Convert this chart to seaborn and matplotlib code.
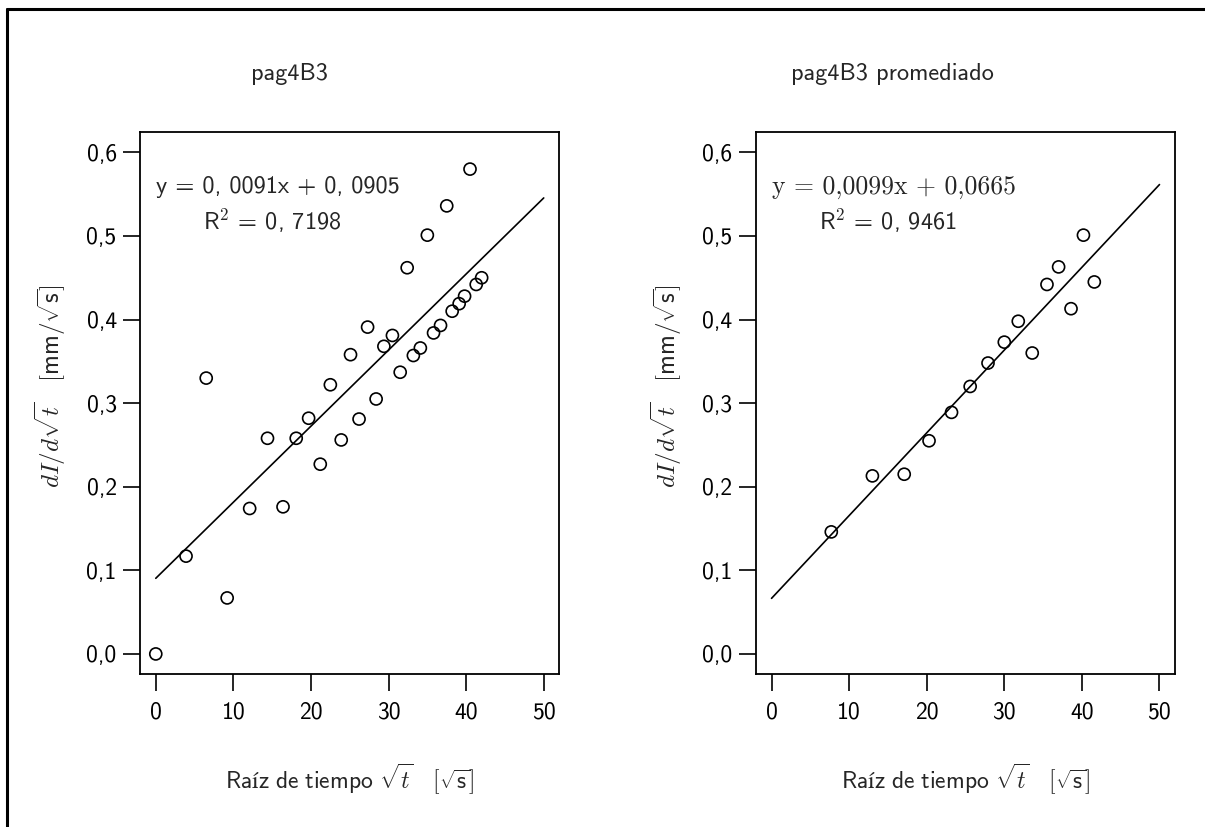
import numpy as np
import pandas as pd
import matplotlib
matplotlib.use("Agg")
import matplotlib.pyplot as plt
from matplotlib.lines import Line2D
import seaborn as sns

# ---------- Data ----------
raw_x = [0.0, 3.9, 6.5, 9.2, 12.1, 14.4, 16.4, 18.1, 19.7, 21.2, 22.5, 23.9,
         25.1, 26.2, 27.3, 28.4, 29.4, 30.5, 31.5, 32.4, 33.2, 34.1, 35.0, 35.8,
         36.7, 37.5, 38.2, 39.1, 39.8, 40.5, 41.3, 42.0]
raw_y = [0.000, 0.117, 0.330, 0.067, 0.174, 0.258, 0.176, 0.258, 0.282, 0.227,
         0.322, 0.256, 0.358, 0.281, 0.391, 0.305, 0.368, 0.381, 0.337, 0.462,
         0.357, 0.366, 0.501, 0.384, 0.393, 0.536, 0.410, 0.419, 0.428, 0.580,
         0.442, 0.450]

avg_x = [7.7, 13.0, 17.1, 20.3, 23.2, 25.6, 27.9, 30.0, 31.8, 33.6, 35.5, 37.0,
         38.6, 40.2, 41.6]
avg_y = [0.146, 0.213, 0.215, 0.255, 0.289, 0.320, 0.348, 0.373, 0.398, 0.360,
         0.442, 0.463, 0.413, 0.501, 0.445]

# fit coefficients (intercept, slope) as printed on the chart
raw_fit = (0.0905, 0.0091)
avg_fit = (0.0665, 0.0099)

titles = ["pag4B3", "pag4B3 promediado"]
eq_texts = ["y = 0, 0091x + 0, 0905", "y = 0,0099x + 0,0665"]
eq_fonts = [["cmss10", "DejaVu Sans"], ["cmr10", "DejaVu Serif"]]
eq_sizes = [17.5, 18.5]
r2_texts = [r"R$^{\mathsf{2}}$ = 0, 7198", r"R$^{\mathsf{2}}$ = 0, 9461"]

xticks = [0, 10, 20, 30, 40, 50]
yticks = [0.0, 0.1, 0.2, 0.3, 0.4, 0.5, 0.6]
ytick_labels = ["0,0", "0,1", "0,2", "0,3", "0,4", "0,5", "0,6"]
x_range = [0, 50]

xlabel = r"$\mathsf{Raíz\ de\ tiempo}\ \sqrt{t}\quad[\sqrt{\mathsf{s}}]$"
ylabel = r"$dI/d\sqrt{t}\quad[\mathsf{mm}/\sqrt{\mathsf{s}}]$"

# ---------- Style ----------
sns.set_style("ticks")
plt.rcParams["font.family"] = ["cmss10", "DejaVu Sans"]
plt.rcParams["mathtext.fontset"] = "cm"
plt.rcParams["axes.unicode_minus"] = False

fig = plt.figure(figsize=(12.05, 8.27), dpi=100)

panels = [
    (pd.DataFrame({"x": raw_x, "y": raw_y}), raw_fit),
    (pd.DataFrame({"x": avg_x, "y": avg_y}), avg_fit),
]
lefts = [0.1164, 0.6274]
title_x = [0.357, 0.325]

for i, (df, (b0, b1)) in enumerate(panels):
    ax = fig.add_axes([lefts[i], 0.185, 0.3477, 0.655])

    sns.scatterplot(data=df, x="x", y="y", ax=ax, marker="o", s=75,
                    facecolors="none", edgecolor="black", linewidth=1.2)

    # fitted line over the x range
    fit_df = pd.DataFrame({"x": x_range})
    fit_df["y"] = b0 + b1 * fit_df["x"]
    sns.lineplot(data=fit_df, x="x", y="y", ax=ax, color="black", linewidth=1.2)

    ax.set_xlim(-2, 52)
    ax.set_ylim(-0.024, 0.624)
    ax.set_xticks(xticks)
    ax.set_xticklabels([str(t) for t in xticks])
    ax.set_yticks(yticks)
    ax.set_yticklabels(ytick_labels)
    ax.tick_params(direction="out", length=12, width=1.2, labelsize=17,
                   color="black", labelcolor="black")
    ax.tick_params(axis="x", pad=8)
    ax.tick_params(axis="y", pad=5)
    for sp in ax.spines.values():
        sp.set_visible(True)
        sp.set_linewidth(1.3)
        sp.set_color("black")

    ax.set_title(titles[i], fontsize=17.5, pad=38, x=title_x[i])
    ax.set_xlabel(xlabel, fontsize=17)
    ax.set_ylabel(ylabel, fontsize=18)
    ax.xaxis.set_label_coords(0.5, -0.163)
    ax.yaxis.set_label_coords(-0.1726, 0.532)

    ax.text(0.037, 0.899, eq_texts[i], transform=ax.transAxes, ha="left",
            va="center", fontsize=eq_sizes[i], family=eq_fonts[i])
    ax.text(0.150, 0.836, r2_texts[i], transform=ax.transAxes, ha="left",
            va="center", fontsize=17.5)

# outer frame (top and left edge only, as in the cropped original)
fig.add_artist(Line2D([0.0058, 0.0058], [0.0, 0.989], transform=fig.transFigure,
                      color="black", linewidth=2.2))
fig.add_artist(Line2D([0.0058, 1.0], [0.989, 0.989], transform=fig.transFigure,
                      color="black", linewidth=2.2))

fig.savefig("out.png", dpi=100, facecolor="white")
